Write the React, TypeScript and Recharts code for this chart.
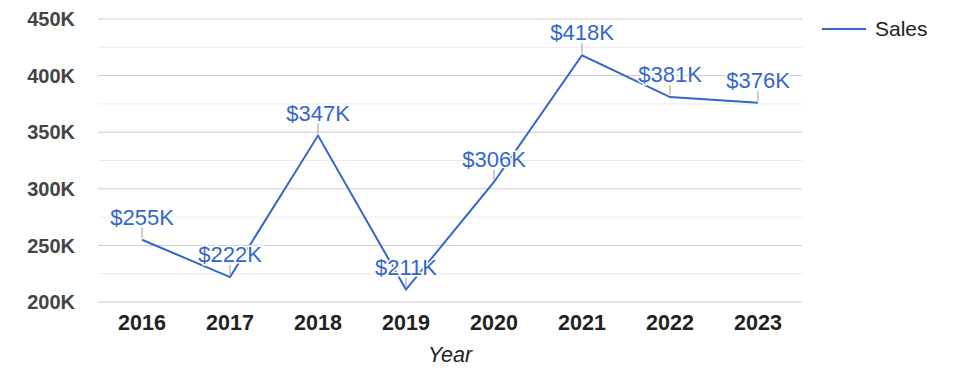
import { CartesianGrid, LabelList, Line, LineChart, ReferenceLine, XAxis, YAxis } from 'recharts';

const years = ['2016', '2017', '2018', '2019', '2020', '2021', '2022', '2023'];
const sales = [255000, 222000, 347000, 211000, 306000, 418000, 381000, 376000];
const majorTicks = [200000, 250000, 300000, 350000, 400000, 450000];
const minorTicks = [225000, 275000, 325000, 375000, 425000];

const data = years.map((year, i) => ({ year, sales: sales[i] }));

const FONT = 'Arial, "Liberation Sans", sans-serif';
const BLUE = '#3366cc';

function SalesLabel(props: any) {
  const { x, y, value } = props;
  return (
    <g>
      <line x1={x} y1={y - 2} x2={x} y2={y - 12} stroke={'#999'} strokeWidth={1} />
      <text
        x={x}
        y={y - 15}
        textAnchor={'middle'}
        fontFamily={FONT}
        fontSize={22}
        fill={BLUE}
        stroke={'#fff'}
        strokeWidth={3}
        paintOrder={'stroke'}
      >
        {'$' + Math.round(value / 1000) + 'K'}
      </text>
    </g>
  );
}

export default function App() {
  return (
    <div style={{ position: 'absolute', left: 0, top: 0, width: 975, height: 378 }}>
      <LineChart width={975} height={378} data={data} margin={{ top: 19, right: 173, left: 0, bottom: 6 }}>
        <CartesianGrid vertical={false} stroke={'#cccccc'} strokeDasharray={'0'} />
        {minorTicks.map(v => (
          <ReferenceLine key={v} y={v} stroke={'#ebebeb'} />
        ))}
        <XAxis
          dataKey={'year'}
          padding={{ left: 44, right: 44 }}
          axisLine={false}
          tickLine={false}
          tickMargin={7}
          height={70}
          tick={{ fontSize: 21.5, fontWeight: 'bold', fill: '#222', fontFamily: FONT }}
          label={{ value: 'Year', position: 'insideBottom', offset: 10, fontSize: 21.5, fontStyle: 'italic', fill: '#222', fontFamily: FONT }}
        />
        <YAxis
          domain={[200000, 450000]}
          ticks={majorTicks}
          width={98}
          axisLine={false}
          tickLine={false}
          tickMargin={17}
          tickFormatter={(v: number) => v / 1000 + 'K'}
          tick={{ fontSize: 20, fontWeight: 'bold', fill: '#444', fontFamily: FONT }}
        />
        <Line dataKey={'sales'} name={'Sales'} stroke={BLUE} strokeWidth={2} dot={false} isAnimationActive={false}>
          <LabelList dataKey={'sales'} content={<SalesLabel />} />
        </Line>
      </LineChart>
      <div
        style={{
          position: 'absolute',
          left: 822,
          top: 17,
          display: 'flex',
          alignItems: 'center',
          fontFamily: FONT,
          fontSize: 21,
          color: '#222',
        }}
      >
        <svg width={44} height={4} style={{ marginRight: 9 }}>
          <line x1={0} y1={2} x2={44} y2={2} stroke={BLUE} strokeWidth={2} />
        </svg>
        <span>Sales</span>
      </div>
    </div>
  );
}
